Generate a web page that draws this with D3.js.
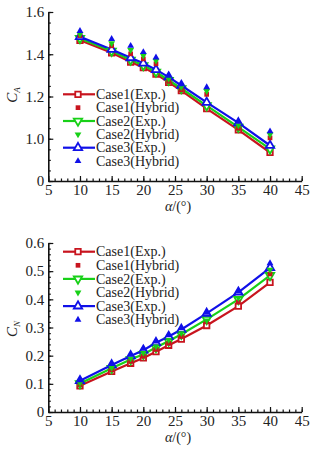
<!DOCTYPE html>
<html lang="en">
<head>
<meta charset="utf-8">
<title>CA CN</title>
<script src="https://d3js.org/d3.v7.min.js"></script>
<style>
  body { margin: 0; background: #fff; }
  text { font-family: "Liberation Serif", "Times New Roman", serif; fill: #222; }
</style>
</head>
<body>
<script>
// angle of attack
var alpha = [10, 15, 18, 20, 22, 24, 26, 30, 35, 40];
var xTicks = [5, 10, 15, 20, 25, 30, 35, 40, 45];

// axial force coefficient
var caExp1 = [1.466, 1.407, 1.363, 1.337, 1.306, 1.267, 1.228, 1.143, 1.042, 0.935];
var caExp2 = [1.475, 1.415, 1.373, 1.347, 1.316, 1.277, 1.238, 1.157, 1.055, 0.952];
var caExp3 = [1.483, 1.423, 1.383, 1.358, 1.327, 1.292, 1.252, 1.172, 1.075, 0.968];
var caHyb1 = [1.488, 1.440, 1.402, 1.378, 1.355, 1.272, 1.232, 1.210, 1.050, 1.004];
var caHyb2 = [1.496, 1.452, 1.420, 1.394, 1.370, 1.284, 1.245, 1.226, 1.064, 1.020];
var caHyb3 = [1.510, 1.472, 1.440, 1.410, 1.385, 1.298, 1.258, 1.244, 1.080, 1.035];
var caTicks = [0.8, 1.0, 1.2, 1.4, 1.6];

// normal force coefficient
var cnExp1 = [0.093, 0.144, 0.173, 0.192, 0.214, 0.237, 0.259, 0.307, 0.376, 0.460];
var cnExp2 = [0.101, 0.155, 0.186, 0.205, 0.229, 0.252, 0.276, 0.329, 0.400, 0.485];
var cnExp3 = [0.111, 0.167, 0.199, 0.219, 0.246, 0.268, 0.293, 0.350, 0.425, 0.512];
var cnHyb1 = [0.098, 0.150, 0.180, 0.198, 0.222, 0.244, 0.268, 0.320, 0.390, 0.490];
var cnHyb2 = [0.103, 0.157, 0.190, 0.210, 0.233, 0.256, 0.280, 0.325, 0.405, 0.505];
var cnHyb3 = [0.113, 0.170, 0.203, 0.224, 0.250, 0.272, 0.297, 0.352, 0.428, 0.528];
var cnTicks = [0, 0.1, 0.2, 0.3, 0.4, 0.5, 0.6];

var legendNames = ["Case1(Exp.)", "Case1(Hybrid)", "Case2(Exp.)", "Case2(Hybrid)", "Case3(Exp.)", "Case3(Hybrid)"];

var red = "#c8141e", green = "#18d018", blue = "#1010e8";

var w = 321, h = 452;
var svg = d3.select("body").append("svg").attr("width", w).attr("height", h);

var xScale = d3.scaleLinear().domain([5, 45]).range([48.3, 301.7]);

// marker shapes
function shape(kind, size) {
  if (kind == "square") return d3.symbol().type(d3.symbolSquare).size(size)();
  return d3.symbol().type(d3.symbolTriangle).size(size)();
}
var expSize = {square: 30, tri: 30};
var hybSize = {square: 22, tri: 20};

function drawChart(opt) {
  var g = svg.append("g");
  var yScale = d3.scaleLinear().domain(opt.domain).range([opt.bottom, opt.top]);

  // minor ticks
  var xMinor = d3.range(5, 45.01, 1);
  g.append("g").attr("transform", `translate(0, ${opt.bottom})`)
    .call(d3.axisBottom(xScale).tickValues(xMinor).tickSize(-2.5).tickFormat("").tickSizeOuter(0))
    .call(s => s.select(".domain").remove());
  g.append("g").attr("transform", `translate(${xScale.range()[0]}, 0)`)
    .call(d3.axisLeft(yScale).tickValues(opt.minor).tickSize(-2.5).tickFormat("").tickSizeOuter(0))
    .call(s => s.select(".domain").remove());

  var xAxis = g.append("g").attr("transform", `translate(0, ${opt.bottom})`)
    .call(d3.axisBottom(xScale).tickValues(xTicks).tickSize(-5).tickSizeOuter(0).tickPadding(3));
  var yAxis = g.append("g").attr("transform", `translate(${xScale.range()[0]}, 0)`)
    .call(d3.axisLeft(yScale).tickValues(opt.ticks).tickSize(-5).tickSizeOuter(0).tickPadding(4)
      .tickFormat(opt.format));
  [xAxis, yAxis].forEach(function(a) {
    a.selectAll("text").style("font-size", "15px").style("font-family", "Liberation Serif, serif").attr("fill", "#222");
    a.select(".domain").attr("stroke", "#111").attr("stroke-width", 1.6);
  });
  g.selectAll(".tick line").attr("stroke", "#111").attr("stroke-width", 1.2);

  var line = d3.line().x((d, i) => xScale(alpha[i])).y(d => yScale(d));

  // experiment series: line plus open marker
  opt.exp.forEach(function(s) {
    g.append("path").datum(s.values).attr("d", line)
      .attr("fill", "none").attr("stroke", s.color).attr("stroke-width", 2.2);
  });
  opt.exp.forEach(function(s) {
    g.selectAll(null).data(s.values).enter().append("path")
      .attr("d", shape(s.kind, expSize[s.kind]))
      .attr("transform", (d, i) => `translate(${xScale(alpha[i])}, ${yScale(d)}) rotate(${s.down ? 180 : 0})`)
      .attr("fill", "#fff").attr("stroke", s.color).attr("stroke-width", 1.8);
  });
  // hybrid: filled marker only
  opt.hyb.forEach(function(s) {
    g.selectAll(null).data(s.values).enter().append("path")
      .attr("d", shape(s.kind, hybSize[s.kind]))
      .attr("transform", (d, i) => `translate(${xScale(alpha[i])}, ${yScale(d)}) rotate(${s.down ? 180 : 0})`)
      .attr("fill", s.color);
  });

  // legend
  var rows = [opt.exp[0], opt.hyb[0], opt.exp[1], opt.hyb[1], opt.exp[2], opt.hyb[2]];
  rows.forEach(function(s, i) {
    var y = opt.legY + i * opt.legStep;
    var isExp = i % 2 == 0;
    if (isExp) {
      g.append("line").attr("x1", opt.legX).attr("x2", opt.legX + 32).attr("y1", y).attr("y2", y)
        .attr("stroke", s.color).attr("stroke-width", 2.2);
      g.append("path").attr("d", shape(s.kind, expSize[s.kind]))
        .attr("transform", `translate(${opt.legX + 15}, ${y}) rotate(${s.down ? 180 : 0})`)
        .attr("fill", "#fff").attr("stroke", s.color).attr("stroke-width", 1.8);
    } else {
      g.append("path").attr("d", shape(s.kind, hybSize[s.kind]))
        .attr("transform", `translate(${opt.legX + 15}, ${y}) rotate(${s.down ? 180 : 0})`)
        .attr("fill", s.color);
    }
    g.append("text").attr("x", opt.legX + 33).attr("y", y + 4.6)
      .style("font-size", "14px").text(legendNames[i]);
  });

  // axis titles
  var yt = g.append("text").attr("transform", `translate(17, ${opt.titleY}) rotate(-90)`)
    .attr("text-anchor", "middle").style("font-size", "15px");
  yt.append("tspan").style("font-style", "italic").text("C");
  yt.append("tspan").attr("dy", 3).style("font-size", "9px").style("font-style", "italic").text(opt.sub);

  var xt = g.append("text").attr("x", 178).attr("y", opt.bottom + 29.5)
    .attr("text-anchor", "middle").style("font-size", "14px");
  xt.append("tspan").style("font-style", "italic").text("\u03b1");
  xt.append("tspan").text("/(\u00b0)");
}

var f1 = d3.format(".1f");
drawChart({
  domain: [0.8, 1.6], top: 12, bottom: 181,
  ticks: caTicks, minor: d3.range(0.8, 1.6001, 0.05),
  format: d => (d == 0.8 ? "0" : f1(d)),
  exp: [
    {values: caExp1, color: red, kind: "square"},
    {values: caExp2, color: green, kind: "tri", down: true},
    {values: caExp3, color: blue, kind: "tri"}
  ],
  hyb: [
    {values: caHyb1, color: red, kind: "square"},
    {values: caHyb2, color: green, kind: "tri", down: true},
    {values: caHyb3, color: blue, kind: "tri"}
  ],
  legX: 63, legY: 94.3, legStep: 13.35, sub: "A", titleY: 95
});

drawChart({
  domain: [0, 0.6], top: 243, bottom: 412,
  ticks: cnTicks, minor: d3.range(0, 0.6001, 0.02),
  format: d => (d == 0 ? "0" : f1(d)),
  exp: [
    {values: cnExp1, color: red, kind: "square"},
    {values: cnExp2, color: green, kind: "tri", down: true},
    {values: cnExp3, color: blue, kind: "tri"}
  ],
  hyb: [
    {values: cnHyb1, color: red, kind: "square"},
    {values: cnHyb2, color: green, kind: "tri", down: true},
    {values: cnHyb3, color: blue, kind: "tri"}
  ],
  legX: 63, legY: 251.7, legStep: 13.6, sub: "N", titleY: 329
});
</script>
</body>
</html>
